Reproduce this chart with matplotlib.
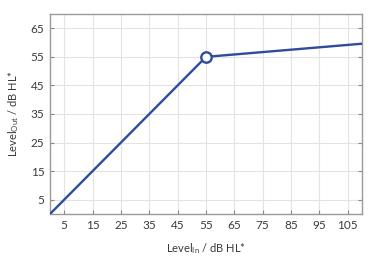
import matplotlib
matplotlib.use('Agg')
import matplotlib.pyplot as plt

# input / output levels (dB HL), knee point at 55
level_in = [0, 55, 110]
level_out = [0, 55, 59.6]
knee_x = [55]
knee_y = [55]

xticks = [5, 15, 25, 35, 45, 55, 65, 75, 85, 95, 105]
yticks = [5, 15, 25, 35, 45, 55, 65]

plt.rcParams['font.family'] = ['Lato', 'DejaVu Sans']
plt.rcParams['mathtext.default'] = 'regular'

fig = plt.figure(figsize=(3.77, 2.57), dpi=100)
ax = fig.add_axes([50/377, 43/257, 312/377, 200/257])

col = '#2f4b9c'
ax.plot(level_in, level_out, color=col, lw=1.7, zorder=3)
ax.plot(knee_x, knee_y, 'o', ms=7.5, mfc='white', mec=col, mew=1.7, zorder=4)

ax.set_xlim(0, 110)
ax.set_ylim(0, 70)
ax.set_xticks(xticks)
ax.set_yticks(yticks)
ax.grid(True, color='#e3e3e3', lw=0.8)
ax.set_axisbelow(True)
ax.tick_params(direction='in', length=3, width=0.8, color='#888888',
               labelsize=8.5, labelcolor='#3a3a3a', top=False, right=True, pad=4)
for s in ax.spines.values():
    s.set_color('#999999')
    s.set_linewidth(1.0)

ax.set_xlabel('Level$_{In}$ / dB HL*', fontsize=8, color='#3a3a3a', labelpad=8)
ax.set_ylabel('Level$_{Out}$ / dB HL*', fontsize=8, color='#3a3a3a', labelpad=7)

fig.savefig('out.png', dpi=100)
